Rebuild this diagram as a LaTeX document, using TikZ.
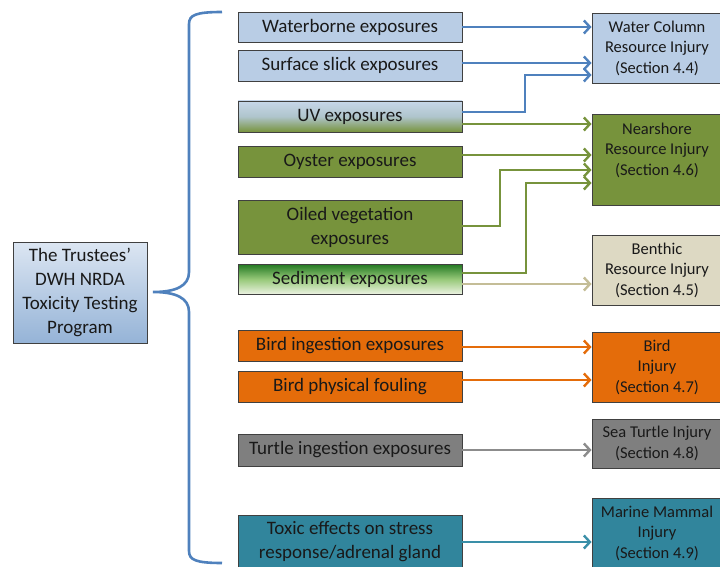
\documentclass[tikz,border=0pt]{standalone}
\usepackage{fontspec}
\setmainfont{Carlito}
\usetikzlibrary{arrows.meta,calc}
\definecolor{bluefill}{HTML}{B9CDE5}
\definecolor{bluearr}{HTML}{4F81BD}
\definecolor{grn}{HTML}{77933C}
\definecolor{beige}{HTML}{DDD9C3}
\definecolor{beigearr}{HTML}{C4BD97}
\definecolor{orng}{HTML}{E46C0A}
\definecolor{gry}{HTML}{7F7F7F}
\definecolor{gryarr}{HTML}{8C8C8C}
\definecolor{teal}{HTML}{31859C}
\definecolor{tealarr}{HTML}{3A8FA8}
\definecolor{edge}{HTML}{404040}
\tikzset{
  box/.style={draw=edge, line width=0.9pt, minimum width=224pt, inner sep=0pt, align=center,
    font=\fontsize{19}{24}\selectfont, text=black!90},
  rbox/.style={draw=edge, line width=0.9pt, minimum width=130pt, inner sep=0pt, align=center,
    font=\fontsize{16.5}{20.5}\selectfont, text=black!90},
  conn/.style={line width=2.8pt, -{Straight Barb[length=6pt,width=13pt,line width=2.4pt]}},
}
\begin{document}
\begin{tikzpicture}[x=1pt,y=-1pt]
\useasboundingbox (0,0) rectangle (720,567);
% left boxes
\node[box, fill=bluefill, minimum height=30pt] (wb) at (350,27) {Waterborne exposures};
\node[box, fill=bluefill, minimum height=31pt] (ss) at (350,65.5) {Surface slick exposures};
\node[box, top color=bluefill!80!white, bottom color=grn, middle color=bluefill!85!grn, minimum height=31pt] (uv) at (350,116.5) {UV exposures};
\node[box, fill=grn, minimum height=31pt] (oy) at (350,161.5) {Oyster exposures};
\node[box, fill=grn, minimum height=54pt] (ov) at (350,227) {Oiled vegetation\\exposures};
\node[box, top color={rgb,255:red,34;green,120;blue,34}, bottom color={rgb,255:red,235;green,242;blue,225}, middle color={rgb,255:red,150;green,200;blue,120}, minimum height=30pt] (se) at (350,279) {Sediment exposures};
\node[box, fill=orng, minimum height=31pt] (bi) at (350,345.5) {Bird ingestion exposures};
\node[box, fill=orng, minimum height=31pt] (bf) at (350,386.5) {Bird physical fouling};
\node[box, fill=gry, minimum height=32pt] (tu) at (350,450) {Turtle ingestion exposures};
\node[box, fill=teal, minimum height=54pt] (tx) at (350,542) {Toxic effects on stress\\response/adrenal gland};
% program box
\node[draw=edge, line width=0.9pt, top color=bluefill!50!white, bottom color={rgb,255:red,149;green,179;blue,215},
  minimum width=134pt, minimum height=101pt, inner sep=0pt, align=center,
  font=\fontsize{19}{24}\selectfont, text=black!90] (pr) at (80,292.5)
  {The Trustees’\\DWH NRDA\\Toxicity Testing\\Program};
% right boxes
\node[rbox, fill=bluefill, minimum height=70pt] (wc) at (657,48) {Water Column\\Resource Injury\\(Section 4.4)};
\node[rbox, fill=grn, minimum height=91pt] (ns) at (657,159.5) {};
\node[font=\fontsize{16.5}{20.5}\selectfont, text=black!90, align=center] (nst) at ([yshift=9.5pt]ns.center) {Nearshore\\Resource Injury\\(Section 4.6)};
\node[rbox, fill=beige, minimum height=70pt] (be) at (657,270) {Benthic\\Resource Injury\\(Section 4.5)};
\node[rbox, fill=orng, minimum height=70pt] (bd) at (657,367) {Bird\\Injury\\(Section 4.7)};
\node[rbox, fill=gry, minimum height=49pt] (st) at (657,443.5) {Sea Turtle Injury\\(Section 4.8)};
\node[rbox, fill=teal, minimum height=70pt] (mm) at (657,533) {Marine Mammal\\Injury\\(Section 4.9)};
% brace
\coordinate (bt) at (222,12);
\coordinate (bb) at (222,563);
\coordinate (tip) at (153,292);
\draw[bluearr, line width=2.6pt] (bt) .. controls (196,12) and (189,15) .. (189,24)
  -- (189,272) .. controls (189,286) and (176,292) .. (tip)
  .. controls (176,292) and (189,298) .. (189,312)
  -- (189,551) .. controls (189,560) and (196,563) .. (bb);
% bend points
\coordinate (k1) at (525,75);
\coordinate (k2) at (500,170);
\coordinate (k3) at (526,183);
% connectors
\draw[conn, bluearr] (wb.east) -- (wb.east -| wc.west);
\draw[conn, bluearr] ([yshift=2.5pt]ss.east) -- ([yshift=2.5pt]ss.east -| wc.west);
\draw[conn, bluearr] ([yshift=4.5pt]uv.east) -| (k1) -- (k1 -| wc.west);
\draw[conn, grn] ([yshift=-7.5pt]uv.east) -- ([yshift=-7.5pt]uv.east -| ns.west);
\draw[conn, grn] ([yshift=6.5pt]oy.east) -- ([yshift=6.5pt]oy.east -| ns.west);
\draw[conn, grn] ([yshift=1pt]ov.east) -| (k2) -- (k2 -| ns.west);
\draw[conn, grn] ([yshift=6pt]se.east) -| (k3) -- (k3 -| ns.west);
\draw[conn, beigearr] ([yshift=-5pt]se.east) -- ([yshift=-5pt]se.east -| be.west);
\draw[conn, orng] ([yshift=-1.5pt]bi.east) -- ([yshift=-1.5pt]bi.east -| bd.west);
\draw[conn, orng] ([yshift=6.5pt]bf.east) -- ([yshift=6.5pt]bf.east -| bd.west);
\draw[conn, gryarr] (tu.east) -- (tu.east -| st.west);
\draw[conn, tealarr] (tx.east) -- (tx.east -| mm.west);
\end{tikzpicture}
\end{document}
